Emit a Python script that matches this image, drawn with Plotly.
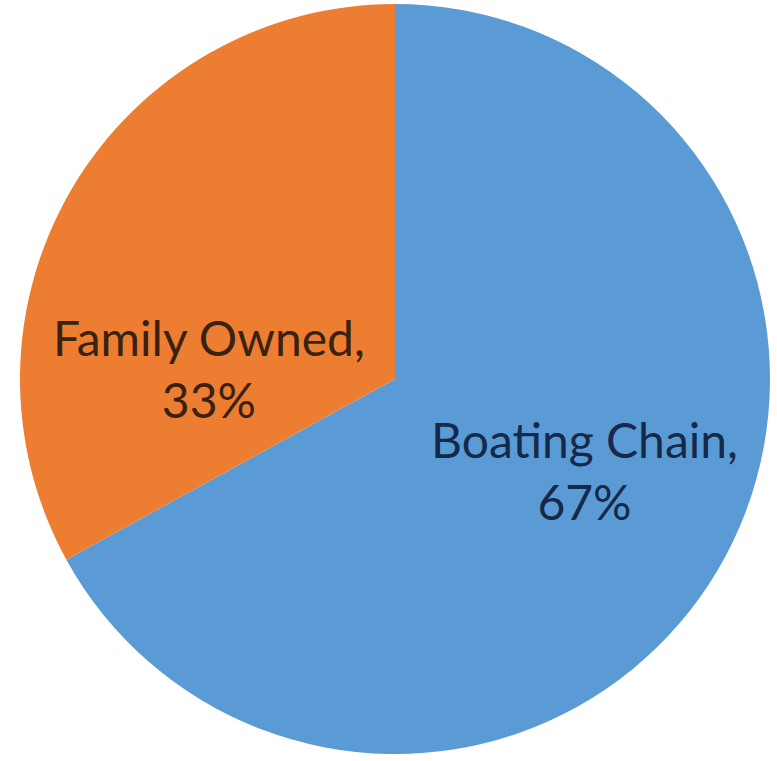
import plotly.graph_objects as go

categories = ["Boating Chain", "Family Owned"]
values = [67, 33]
colors = ["#5B9BD5", "#ED7D31"]
label_colors = ["#15294A", "#3A2212"]
# label anchor positions (paper fraction) used to place the data labels as Excel does
label_x = [0.752, 0.252]
label_y = [0.378, 0.514]

fig = go.Figure(go.Pie(
    labels=categories,
    values=values,
    sort=False,
    direction="clockwise",
    rotation=0,
    marker=dict(colors=colors, line=dict(width=0)),
    textinfo="none",
    hoverinfo="label+percent",
    showlegend=False,
))

total = sum(values)
for cat, val, lx, ly, lc in zip(categories, values, label_x, label_y, label_colors):
    fig.add_annotation(
        x=lx, y=ly, xref="paper", yref="paper",
        text=f"{cat},<br>{round(100 * val / total)}%",
        showarrow=False,
        xanchor="center", yanchor="middle",
        align="center",
        font=dict(family="Lato, Open Sans, sans-serif", size=48, color=lc),
    )

fig.update_layout(
    width=777, height=761,
    margin=dict(l=20, r=7, t=4, b=7),
    paper_bgcolor="white",
    plot_bgcolor="white",
)
fig.write_html("out.html", config={"displayModeBar": False},
               post_script="document.body.style.margin='0px';")
